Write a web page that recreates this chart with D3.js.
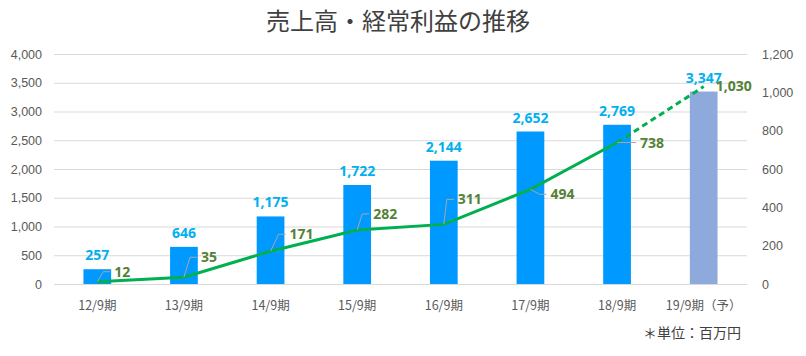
<!DOCTYPE html>
<html><head><meta charset="utf-8">
<script src="https://cdn.jsdelivr.net/npm/d3@7/dist/d3.min.js"></script>
<style>body{margin:0;background:#fff}svg{display:block}</style>
</head><body>
<script>
const categories = ["12/9期","13/9期","14/9期","15/9期","16/9期","17/9期","18/9期","19/9期（予）"];
const sales = [257,646,1175,1722,2144,2652,2769,3347];
const profit = [12,35,171,282,311,494,738,1030];
const leftTicks = [0,500,1000,1500,2000,2500,3000,3500,4000];
const rightTicks = [0,200,400,600,800,1000,1200];
// label offsets for profit labels (dx, dy) and leader style
const profitLabelPos = [[17,-10],[17,-20],[19,-17],[16,-16],[14,-25],[20,5],[23,1],[12,0]];
const leaderType = ["elbow","elbow","elbow","elbow","elbow","elbow","horiz","none"];

const W=806,H=356;
const svg=d3.select("body").append("svg").attr("width",W).attr("height",H);
const font="'Noto Sans CJK JP','Noto Sans',sans-serif";
const x=d3.scaleBand().domain(categories).range([54,747]).paddingInner(0.68).paddingOuter(0.34);
const xc=d=>x(d)+x.bandwidth()/2;
const yL=d3.scaleLinear().domain([0,4000]).range([284,54]);
const yR=d3.scaleLinear().domain([0,1200]).range([284,54]);

svg.append("text").attr("x",398).attr("y",30).attr("text-anchor","middle")
  .attr("font-family",font).attr("font-size",24).attr("fill","#404040").text("売上高・経常利益の推移");

// gridlines
svg.append("g").selectAll("line").data(leftTicks).join("line")
  .attr("x1",54).attr("x2",747).attr("y1",d=>yL(d)+0.5).attr("y2",d=>yL(d)+0.5)
  .attr("stroke","#D9D9D9").attr("stroke-width",1);

// left axis
const gl=svg.append("g").attr("transform","translate(42,0)")
  .call(d3.axisLeft(yL).tickValues(leftTicks).tickSize(0).tickPadding(0).tickFormat(d3.format(",")));
gl.select(".domain").remove();
gl.selectAll("text").attr("font-family","'Liberation Sans',sans-serif").attr("font-size",12.5).attr("fill","#595959");
// right axis
const gr=svg.append("g").attr("transform","translate(762,0)")
  .call(d3.axisRight(yR).tickValues(rightTicks).tickSize(0).tickPadding(0).tickFormat(d3.format(",")));
gr.select(".domain").remove();
gr.selectAll("text").attr("font-family","'Liberation Sans',sans-serif").attr("font-size",12.5).attr("fill","#595959");
// x axis
const gx=svg.append("g").attr("transform","translate(0,299)")
  .call(d3.axisBottom(x).tickSize(0).tickPadding(0));
gx.select(".domain").remove();
gx.selectAll("text").attr("font-family",font).attr("font-size",12.5).attr("fill","#595959").attr("dy","0.9em");

// bars
svg.append("g").selectAll("rect").data(sales).join("rect")
  .attr("x",(d,i)=>x(categories[i])).attr("width",x.bandwidth())
  .attr("y",d=>yL(d)).attr("height",d=>yL(0)-yL(d))
  .attr("fill",(d,i)=>i===sales.length-1?"#8EA9DB":"#0099FF");

// bar labels
svg.append("g").selectAll("text").data(sales).join("text")
  .attr("x",(d,i)=>xc(categories[i])).attr("y",d=>yL(d)-9)
  .attr("text-anchor","middle").attr("font-family","'Open Sans',sans-serif").attr("font-weight","bold")
  .attr("font-size",14).attr("fill","#00B0F0").text(d=>d3.format(",")(d));

// line
const pts=profit.map((d,i)=>[xc(categories[i]),yR(d)]);
const line=d3.line();
svg.append("path").attr("d",line(pts.slice(0,7))).attr("fill","none").attr("stroke","#00B050").attr("stroke-width",3);
svg.append("path").attr("d",line(pts.slice(6))).attr("fill","none").attr("stroke","#00B050").attr("stroke-width",3).attr("stroke-dasharray","6,4");

// leaders & profit labels
const lg=svg.append("g");
profit.forEach((d,i)=>{
  const [px,py]=pts[i];const [dx,dy]=profitLabelPos[i];
  const lx=px+dx, ly=py+dy;
  const t=leaderType[i];
  if(t==="elbow"){
    lg.append("polyline").attr("points",`${px},${py} ${lx-11},${ly} ${lx-4},${ly}`)
      .attr("fill","none").attr("stroke","#A6A6A6").attr("stroke-width",1);
  } else if(t==="horiz"){
    lg.append("line").attr("x1",px).attr("x2",lx-4).attr("y1",py).attr("y2",py)
      .attr("stroke","#A6A6A6").attr("stroke-width",1);
  }
  lg.append("text").attr("x",lx).attr("y",ly).attr("dy","0.35em")
    .attr("font-family","'Open Sans',sans-serif").attr("font-weight","bold").attr("font-size",14)
    .attr("fill","#548235").text(d3.format(",")(d));
});

svg.append("text").attr("x",741).attr("y",338).attr("text-anchor","end")
  .attr("font-family",font).attr("font-size",14).attr("fill","#404040").text("＊単位：百万円");
</script>
</body></html>
